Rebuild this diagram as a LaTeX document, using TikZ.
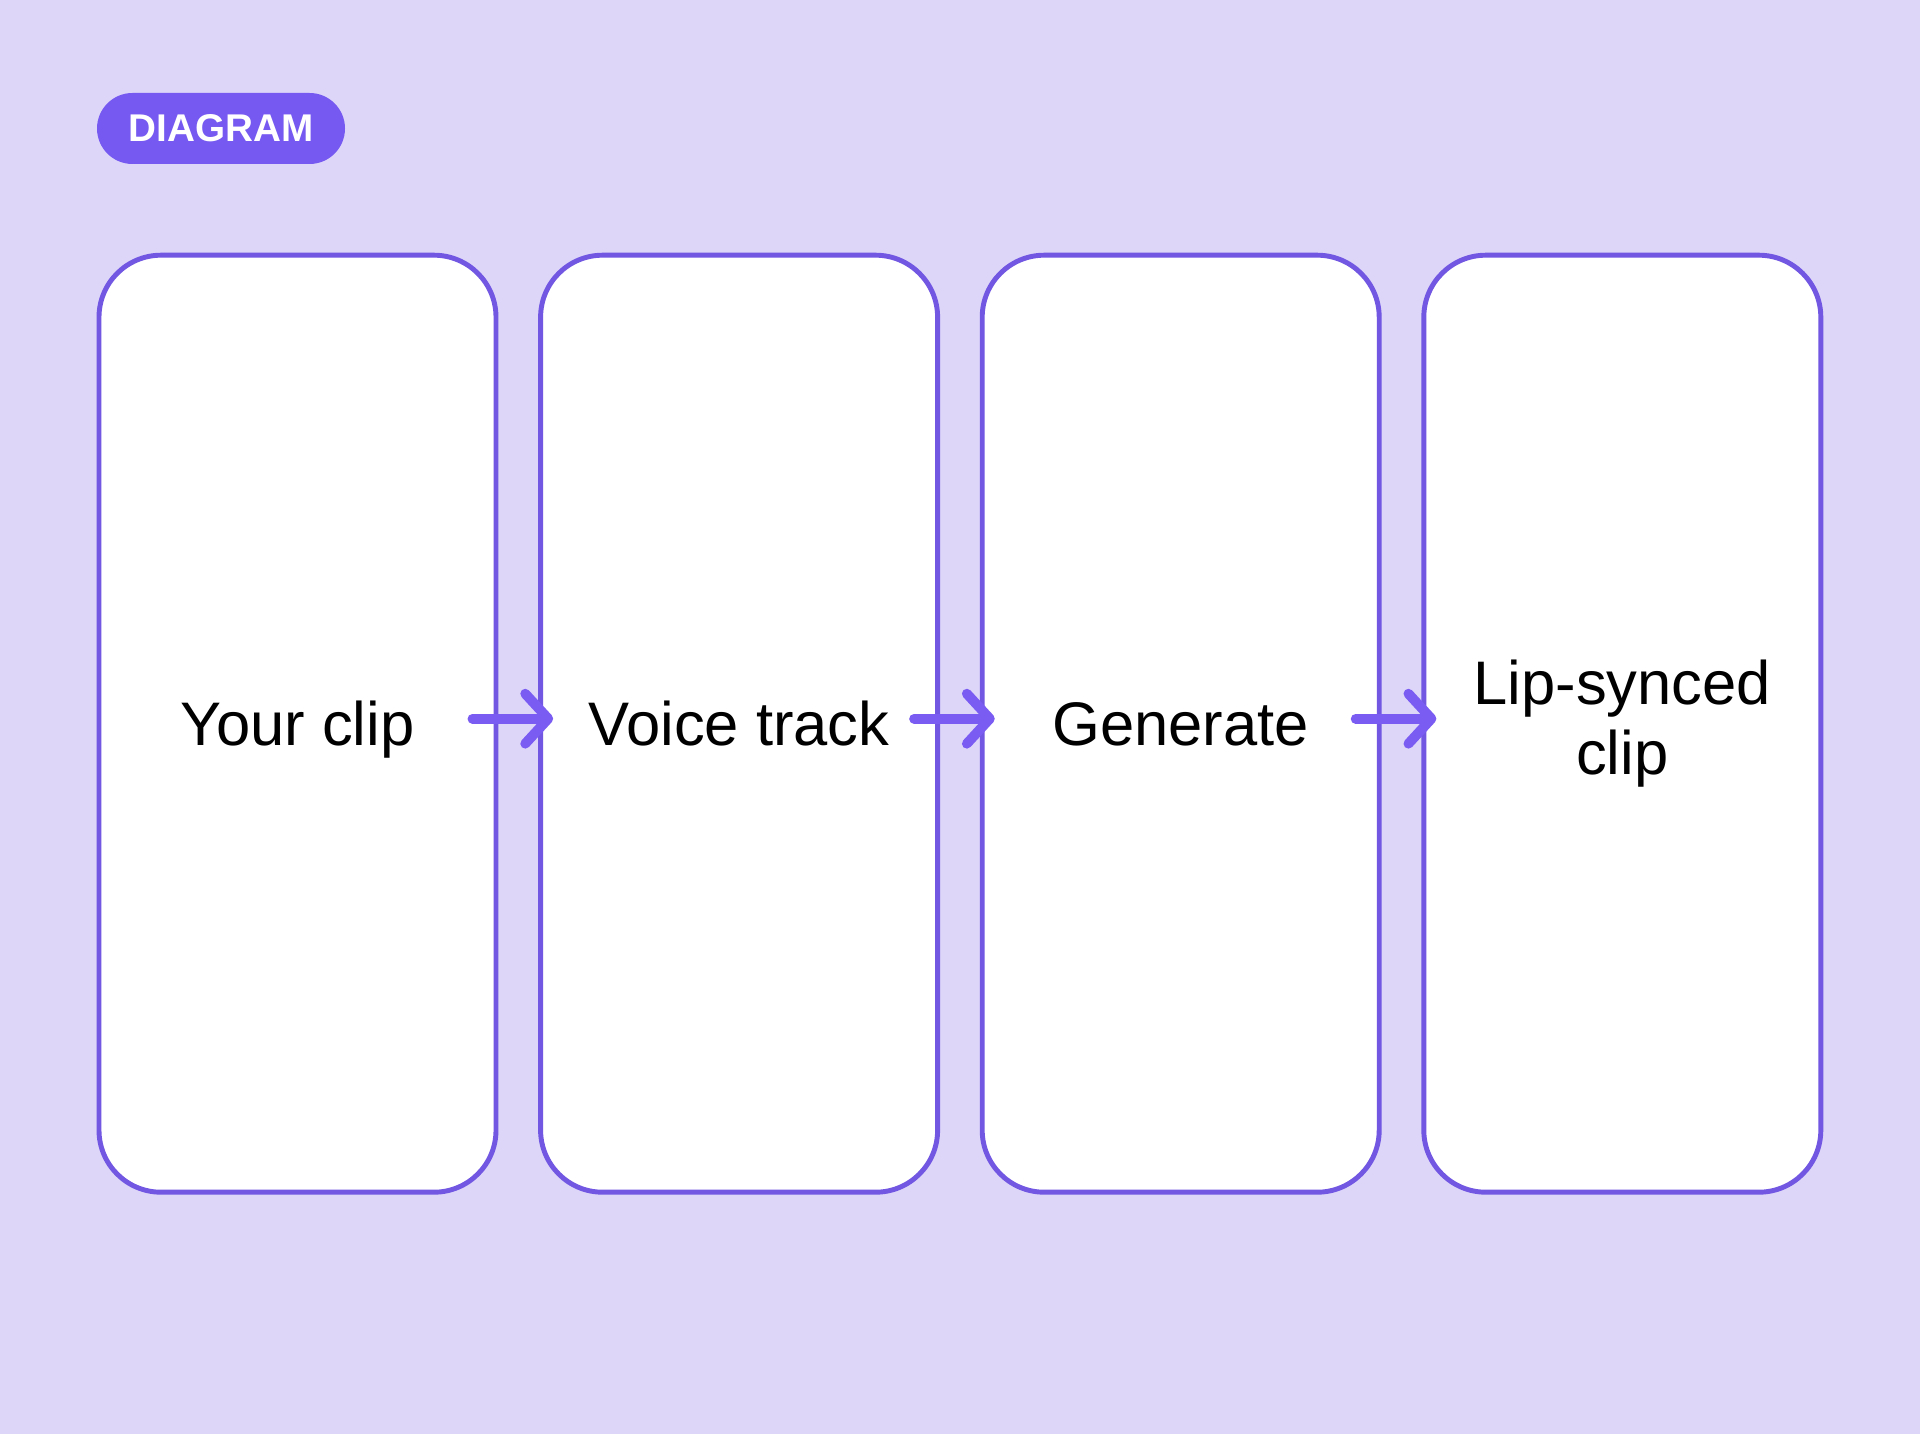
\documentclass[tikz,border=0pt]{standalone}
\usepackage{fontspec}
\setmainfont{Liberation Sans}
\usepackage{xcolor}
\usetikzlibrary{arrows.meta}

\definecolor{bgviolet}{RGB}{221,214,249}
\definecolor{edgeviolet}{RGB}{113,87,226}
\definecolor{badgeviolet}{RGB}{117,89,240}
\definecolor{arrowviolet}{RGB}{122,92,242}

\tikzset{
    card/.style={draw=edgeviolet,line width=1.4pt,fill=white,rounded corners=0.62cm,
        minimum width=3.97cm,minimum height=9.37cm,inner sep=0pt,align=center,
        font=\fontsize{17.5pt}{20pt}\selectfont,
        execute at begin node={\rule[-0.21em]{0pt}{1.136em}}},
    badge/.style={fill=badgeviolet,rounded corners=0.355cm,minimum width=2.48cm,
        minimum height=0.71cm,inner sep=0pt,text=white,
        font=\fontsize{11pt}{13pt}\selectfont\bfseries},
    flow/.style={draw=arrowviolet,line width=2.8pt,line cap=round,
        -{Straight Barb[length=0.23cm,width=0.5cm,round]}},
}

\begin{document}
\begin{tikzpicture}
    % Background
    \fill[bgviolet] (0,0) rectangle (19.2,14.34);

    % Badge
    \node[badge] (tag) at (2.21,13.055) {DIAGRAM};

    % Cards
    \foreach \i / \t in {1/Your clip,2/Voice track,3/Generate,4/{Lip-synced\\clip}} {
        \node[card] (card\i) at ({2.975+4.416*(\i-1)},7.103) {\t};
    }

    % Arrows
    \foreach \a / \b in {1/2,2/3,3/4} {
        \draw[flow] ([shift={(-0.26,0.05)}]card\a.east) -- ([shift={(0.15,0.05)}]card\b.west);
    }

\end{tikzpicture}
\end{document}
